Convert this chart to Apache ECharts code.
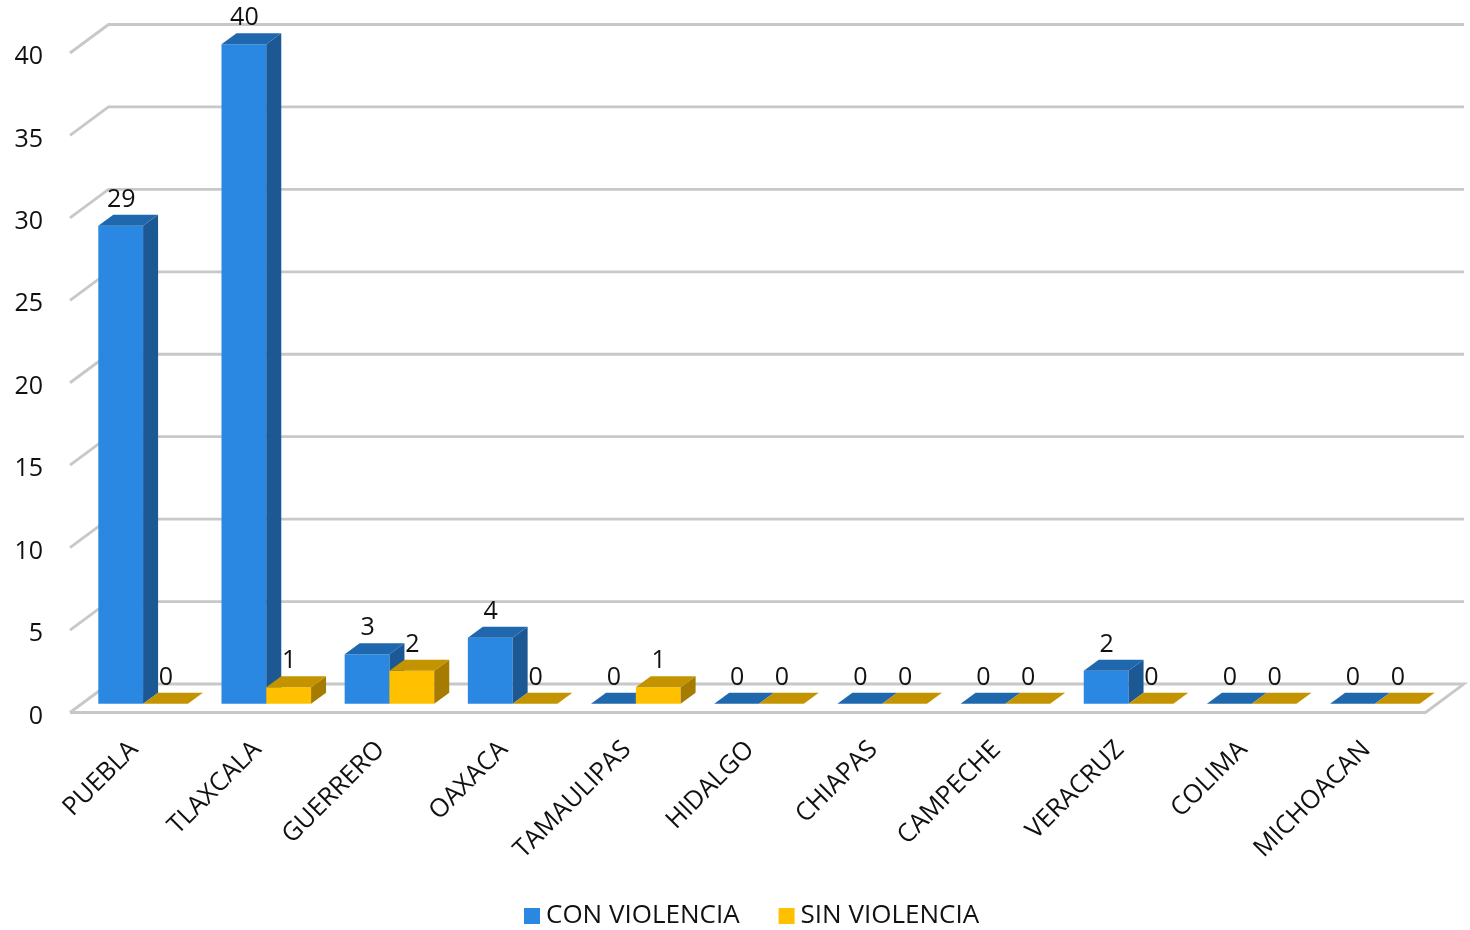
<!DOCTYPE html>
<html><head><meta charset="utf-8">
<style>html,body{margin:0;padding:0;background:#fff}#c{width:1470px;height:930px}</style>
<script src="https://cdn.jsdelivr.net/npm/echarts@6/dist/echarts.min.js"></script>
</head><body><div id="c"></div>
<script>
const categories = ['PUEBLA','TLAXCALA','GUERRERO','OAXACA','TAMAULIPAS','HIDALGO','CHIAPAS','CAMPECHE','VERACRUZ','COLIMA','MICHOACAN'];
const conViolencia = [29,40,3,4,0,0,0,0,2,0,0];
const sinViolencia = [0,1,2,0,1,0,0,0,0,0,0];
const yTicks = [0,5,10,15,20,25,30,35,40];
const FONT = '"Open Sans"';
const TXT = '#111111';
const chart = echarts.init(document.getElementById('c'), null, {renderer:'canvas'});

function wallItem(params, api){
  const cs = params.coordSys, v = api.value(0);
  const y = api.coord([0, v])[1];
  const dx = 38.5, dy = -28.5, x0 = cs.x, x1 = cs.x + cs.width;
  const line = {stroke:'#c8c8c8', lineWidth:2.8, fill:null};
  const pts = [[x0,y],[x0+dx,y+dy],[x1+dx,y+dy]];
  if (v === 0) { pts.push([x1,y],[x0,y]); }
  return {type:'polyline', shape:{points:pts}, style:line, silent:true};
}
function barItem(side, colors){
  return function(params, api){
    const i = api.value(0), v = api.value(1);
    const p = api.coord([i, v]), b = api.coord([i, 0]);
    const w = api.size([1,0])[0] * 0.3636;
    const x0 = side === 0 ? p[0] - w : p[0], x1 = x0 + w;
    const dx = 15, dy = -11, yt = p[1], yb = b[1];
    const kids = [];
    if (v > 0) {
      kids.push({type:'rect', shape:{x:x0,y:yt,width:w,height:yb-yt}, style:{fill:colors[0]}});
      kids.push({type:'polygon', shape:{points:[[x1,yt],[x1+dx,yt+dy],[x1+dx,yb+dy],[x1,yb]]}, style:{fill:colors[1]}});
    }
    kids.push({type:'polygon', shape:{points:[[x0,yt],[x0+dx,yt+dy],[x1+dx,yt+dy],[x1,yt]]}, style:{fill:colors[2]}});
    kids.push({type:'text', z2:10, style:{text:String(v), x:x0+w/2+0.5, y:yt-26, align:'center', verticalAlign:'middle', font:'25px '+FONT, fill:TXT}});
    return {type:'group', children:kids};
  };
}
const BLUE = ['#2b88e2','#1b5894','#2068ad'];
const GOLD = ['#ffc000','#a67c00','#c49300'];

chart.setOption({
  animation:false,
  backgroundColor:'#fff',
  textStyle:{fontFamily:FONT},
  legend:{
    left:519, top:898, itemWidth:16, itemHeight:16, itemGap:39, icon:'rect',
    data:['CON VIOLENCIA','SIN VIOLENCIA'],
    textStyle:{fontFamily:FONT, fontSize:26, color:TXT, padding:[0,0,0,1]}
  },
  grid:[
    {left:70, top:53, width:1355.5, height:659.5, containLabel:false},
    {left:81.5, top:44.3, width:1355, height:659.4, containLabel:false},
    {left:72.5, top:53, width:1355.5, height:659.5, containLabel:false}
  ],
  xAxis:[
    {gridIndex:0, type:'category', data:categories, show:false},
    {gridIndex:1, type:'category', data:categories, show:false},
    {gridIndex:2, type:'category', data:categories, axisLine:{show:false}, axisTick:{show:false},
     axisLabel:{rotate:45, interval:0, margin:33, fontSize:25.5, color:TXT, fontFamily:FONT}}
  ],
  yAxis:[
    {gridIndex:0, type:'value', min:0, max:40, interval:5, splitLine:{show:false}, axisLine:{show:false}, axisTick:{show:false},
     axisLabel:{margin:27, fontSize:25, color:TXT, fontFamily:FONT, verticalAlign:'top', lineHeight:8}},
    {gridIndex:1, type:'value', min:0, max:40, interval:5, show:false},
    {gridIndex:2, type:'value', min:0, max:40, interval:5, show:false}
  ],
  series:[
    {type:'custom', name:'walls', xAxisIndex:0, yAxisIndex:0, clip:false, silent:true, z:1,
     data:yTicks.map(v=>[v]), encode:{y:0}, renderItem:wallItem},
    {type:'custom', name:'CON VIOLENCIA', xAxisIndex:1, yAxisIndex:1, clip:false, z:2, itemStyle:{color:BLUE[0]},
     data:conViolencia.map((v,i)=>[i,v]), encode:{x:0,y:1}, renderItem:barItem(0,BLUE)},
    {type:'custom', name:'SIN VIOLENCIA', xAxisIndex:1, yAxisIndex:1, clip:false, z:3, itemStyle:{color:GOLD[0]},
     data:sinViolencia.map((v,i)=>[i,v]), encode:{x:0,y:1}, renderItem:barItem(1,GOLD)}
  ]
});
</script></body></html>
